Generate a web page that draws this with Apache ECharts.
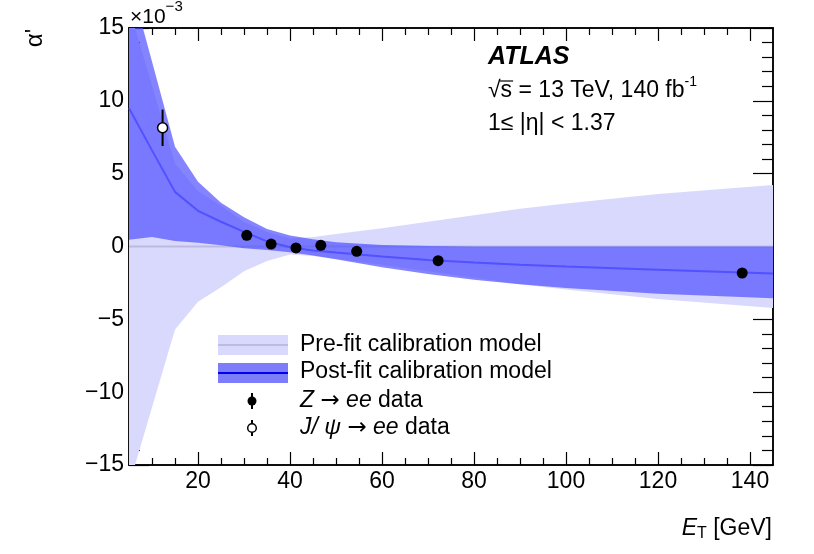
<!DOCTYPE html>
<html><head><meta charset="utf-8">
<script src="https://cdn.jsdelivr.net/npm/echarts@6/dist/echarts.min.js"></script>
<style>html,body{margin:0;padding:0;background:#fff}#c{width:814px;height:554px}</style>
</head><body><div id="c"></div>
<script>
// ---------- data ----------
const xMajorTicks = [20, 40, 60, 80, 100, 120, 140];
const xMinorTicks = [10, 15, 25, 30, 35, 45, 50, 55, 65, 70, 75, 85, 90, 95, 105, 110, 115, 125, 130, 135];
const yMinorTicks = [-14, -13, -12, -11, -9, -8, -7, -6, -4, -3, -2, -1, 1, 2, 3, 4, 6, 7, 8, 9, 11, 12, 13, 14];

// Pre-fit calibration model band (units of 1e-3)
const preX  = [5, 15, 20, 25, 30, 35, 40, 45, 50, 60, 70, 80, 90, 100, 120, 145];
const preUp = [16.4, 5.7, 3.8, 2.8, 1.7, 1.0, 0.55, 0.65, 0.85, 1.25, 1.7, 2.15, 2.6, 2.95, 3.6, 4.22];
const preLo = [-16.4, -5.7, -3.8, -2.8, -1.7, -1.0, -0.55, -0.65, -0.85, -1.25, -1.7, -2.15, -2.6, -2.95, -3.6, -4.22];
const preMid = [0, 0];
const preMidX = [5, 145];

// Post-fit calibration model
const postX   = [5, 10, 15, 20, 25, 30, 35, 40, 45, 50, 60, 70, 80, 90, 100, 120, 145];
const postUp  = [18.5, 12.7, 6.85, 4.45, 3.0, 2.0, 1.2, 0.75, 0.5, 0.3, 0.1, 0.03, 0.0, 0.0, 0.0, 0.0, 0.0];
const postLo  = [0.47, 0.65, 0.38, 0.25, 0.08, -0.12, -0.24, -0.4, -0.62, -0.88, -1.42, -1.88, -2.28, -2.6, -2.85, -3.25, -3.56];
const postMid = [9.5, 6.6, 3.75, 2.45, 1.7, 1.0, 0.35, -0.05, -0.28, -0.42, -0.68, -0.93, -1.1, -1.26, -1.38, -1.6, -1.85];

// Z -> ee data
const zX = [30.6, 35.9, 41.3, 46.7, 54.5, 72.2, 138.3];
const zY = [0.77, 0.17, -0.1, 0.08, -0.33, -0.97, -1.82];

// J/psi -> ee data
const jX = [12.3];
const jY = [8.15];
const jErr = [1.25];

// ---------- style ----------
const FONT = '"Liberation Sans", Arial, Helvetica, sans-serif';
const PRE_COLOR = 'rgb(217,217,253)';
const POST_COLOR = 'rgba(80,80,255,0.70)';
const MID_COLOR = '#5151ff';

function measure(txt, size, weight, style) {
  const ctx = document.createElement('canvas').getContext('2d');
  ctx.font = (style || 'normal') + ' ' + (weight || 'normal') + ' ' + size + 'px ' + FONT;
  return ctx.measureText(txt).width;
}
function zip(a, b) { return a.map((v, i) => [v, b[i]]); }

function bandSeries(xs, lo, hi, color) {
  return {
    type: 'custom', clip: true, silent: true, z: 1,
    data: [[xs[0], lo[0]]],
    encode: { x: 0, y: 1 },
    renderItem: function (params, api) {
      const pts = [];
      for (let i = 0; i < xs.length; i++) pts.push(api.coord([xs[i], hi[i]]));
      for (let i = xs.length - 1; i >= 0; i--) pts.push(api.coord([xs[i], lo[i]]));
      return { type: 'polygon', shape: { points: pts }, style: { fill: color } };
    }
  };
}

const GL = 129, GT = 28, GW = 644, GH = 437;
const axisLineStyle = { show: true, onZero: false, lineStyle: { color: '#000', width: 1.5 } };
const tickStyle = { color: '#000', width: 1.2 };
const labelStyle = { color: '#000', fontSize: 23, fontFamily: FONT };

function xAxisDef(pos, ticks, len, withLabel) {
  return {
    type: 'value', position: pos, min: 5, max: 145,
    axisLine: axisLineStyle,
    axisTick: { show: true, inside: true, length: len, lineStyle: tickStyle, customValues: ticks },
    axisLabel: withLabel ? Object.assign({ show: true, margin: 5, customValues: ticks }, labelStyle) : { show: false },
    splitLine: { show: false }
  };
}
function yAxisDef(pos, ticks, len, withLabel) {
  const a = {
    type: 'value', position: pos, min: -15, max: 15,
    axisLine: axisLineStyle,
    axisTick: { show: true, inside: true, length: len, lineStyle: tickStyle },
    axisLabel: withLabel ? Object.assign({ show: true, margin: 5,
      formatter: v => (v < 0 ? '\u2212' + Math.abs(v) : String(v)) }, labelStyle) : { show: false },
    splitLine: { show: false }
  };
  if (ticks) { a.axisTick.customValues = ticks; if (withLabel) a.axisLabel.customValues = ticks; }
  else { a.interval = 5; }
  return a;
}

// ---------- text graphics ----------
const g = [];
function txt(x, y, text, size, opts) {
  opts = opts || {};
  g.push({
    type: 'text', x: x, y: y, rotation: opts.rotation || 0, z: 100,
    style: {
      text: text, fill: '#000', fontSize: size, fontFamily: FONT,
      fontWeight: opts.weight || 'normal', fontStyle: opts.style || 'normal',
      textAlign: opts.align || 'left', align: opts.align || 'left',
      textVerticalAlign: 'middle', verticalAlign: 'middle', rich: opts.rich
    }
  });
}
// x10^-3
txt(130, 17.5, '\u00d710', 21);
txt(130 + measure('\u00d710', 21), 7, '\u22123', 15);
// alpha'
txt(35, 38, "\u03b1'", 24, { rotation: Math.PI / 2, align: 'center' });
// ATLAS block
txt(488, 57, 'ATLAS', 25, { weight: 'bold', style: 'italic' });
const l2 = '\u221as = 13 TeV, 140 fb';
txt(488, 91, l2, 23);
txt(488 + measure(l2, 23), 82, '-1', 14);
g.push({ type: 'line', z: 100, shape: { x1: 488 + measure('\u221a', 23) - 1, y1: 81, x2: 488 + measure('\u221as', 23) + 1, y2: 81 },
  style: { stroke: '#000', lineWidth: 1.2 } });
txt(488, 124, '1\u2264 |\u03b7| < 1.37', 23);
// E_T [GeV]
const unit = ' [GeV]';
const wU = measure(unit, 23), wT = measure('T', 16);
txt(772, 529, unit, 23, { align: 'right' });
txt(772 - wU, 534, 'T', 16, { align: 'right' });
txt(772 - wU - wT, 529, 'E', 23, { align: 'right', style: 'italic' });

// legend
g.push({ type: 'rect', z: 90, shape: { x: 218, y: 335, width: 70, height: 20 }, style: { fill: PRE_COLOR } });
g.push({ type: 'line', z: 91, shape: { x1: 218, y1: 345, x2: 288, y2: 345 }, style: { stroke: 'rgba(160,160,200,0.5)', lineWidth: 2 } });
g.push({ type: 'rect', z: 90, shape: { x: 218, y: 363, width: 70, height: 20 }, style: { fill: 'rgb(125,125,252)' } });
g.push({ type: 'line', z: 91, shape: { x1: 218, y1: 373, x2: 288, y2: 373 }, style: { stroke: '#0000ee', lineWidth: 2 } });
g.push({ type: 'line', z: 91, shape: { x1: 252, y1: 393, x2: 252, y2: 409 }, style: { stroke: '#000', lineWidth: 2 } });
g.push({ type: 'circle', z: 92, shape: { cx: 252, cy: 401, r: 4.5 }, style: { fill: '#000' } });
g.push({ type: 'line', z: 91, shape: { x1: 252, y1: 420, x2: 252, y2: 436 }, style: { stroke: '#000', lineWidth: 2 } });
g.push({ type: 'circle', z: 92, shape: { cx: 252, cy: 428, r: 4.3 }, style: { fill: '#fff', stroke: '#000', lineWidth: 1.5 } });
txt(300, 345, 'Pre-fit calibration model', 23);
txt(300, 372, 'Post-fit calibration model', 23);
const rich = { it: { fontStyle: 'italic', fontSize: 23, fontFamily: FONT, fill: '#000' },
               n: { fontSize: 23, fontFamily: FONT, fill: '#000' },
               ar: { fontSize: 23, fontFamily: '"DejaVu Sans", sans-serif', fill: '#000' } };
txt(300, 401, '{it|Z}{n| }{ar|\u2192}{n| }{it|ee}{n| data}', 23, { rich: rich });
txt(300, 428, '{it|J/ \u03c8}{n| }{ar|\u2192}{n| }{it|ee}{n| data}', 23, { rich: rich });

// ---------- chart ----------
const chart = echarts.init(document.getElementById('c'), null, { renderer: 'canvas' });
chart.setOption({
  animation: false,
  backgroundColor: '#fff',
  grid: { left: GL, top: GT, width: GW, height: GH, containLabel: false },
  xAxis: [
    xAxisDef('bottom', xMajorTicks, 13, true),
    xAxisDef('bottom', xMinorTicks, 7, false),
    xAxisDef('top', xMajorTicks, 13, false),
    xAxisDef('top', xMinorTicks, 7, false)
  ],
  yAxis: [
    yAxisDef('left', null, 20, true),
    yAxisDef('left', yMinorTicks, 11, false),
    yAxisDef('right', null, 20, false),
    yAxisDef('right', yMinorTicks, 11, false)
  ],
  series: [
    bandSeries(preX, preLo, preUp, PRE_COLOR),
    { type: 'line', data: zip(preMidX, preMid), showSymbol: false, silent: true, z: 2,
      lineStyle: { color: 'rgba(150,150,190,0.45)', width: 2 } },
    Object.assign(bandSeries(postX, postLo, postUp, POST_COLOR), { z: 3 }),
    { type: 'line', data: zip(postX, postMid), showSymbol: false, silent: true, z: 4, clip: true,
      lineStyle: { color: MID_COLOR, width: 2 } },
    { type: 'custom', z: 5, silent: true, data: jX.map((x, i) => [x, jY[i], jErr[i]]), encode: { x: 0, y: 1 },
      renderItem: function (params, api) {
        const x = api.value(0), y = api.value(1), e = api.value(2);
        const p1 = api.coord([x, y - e]), p2 = api.coord([x, y + e]);
        return { type: 'line', shape: { x1: p1[0], y1: p1[1], x2: p2[0], y2: p2[1] }, style: { stroke: '#000', lineWidth: 2 } };
      } },
    { type: 'scatter', z: 6, silent: true, data: zip(jX, jY), symbol: 'circle', symbolSize: 10,
      itemStyle: { color: '#fff', borderColor: '#000', borderWidth: 1.5, opacity: 1 } },
    { type: 'scatter', z: 6, silent: true, data: zip(zX, zY), symbol: 'circle', symbolSize: 11,
      itemStyle: { color: '#000', opacity: 1 } }
  ],
  graphic: g
});
</script>
</body></html>
